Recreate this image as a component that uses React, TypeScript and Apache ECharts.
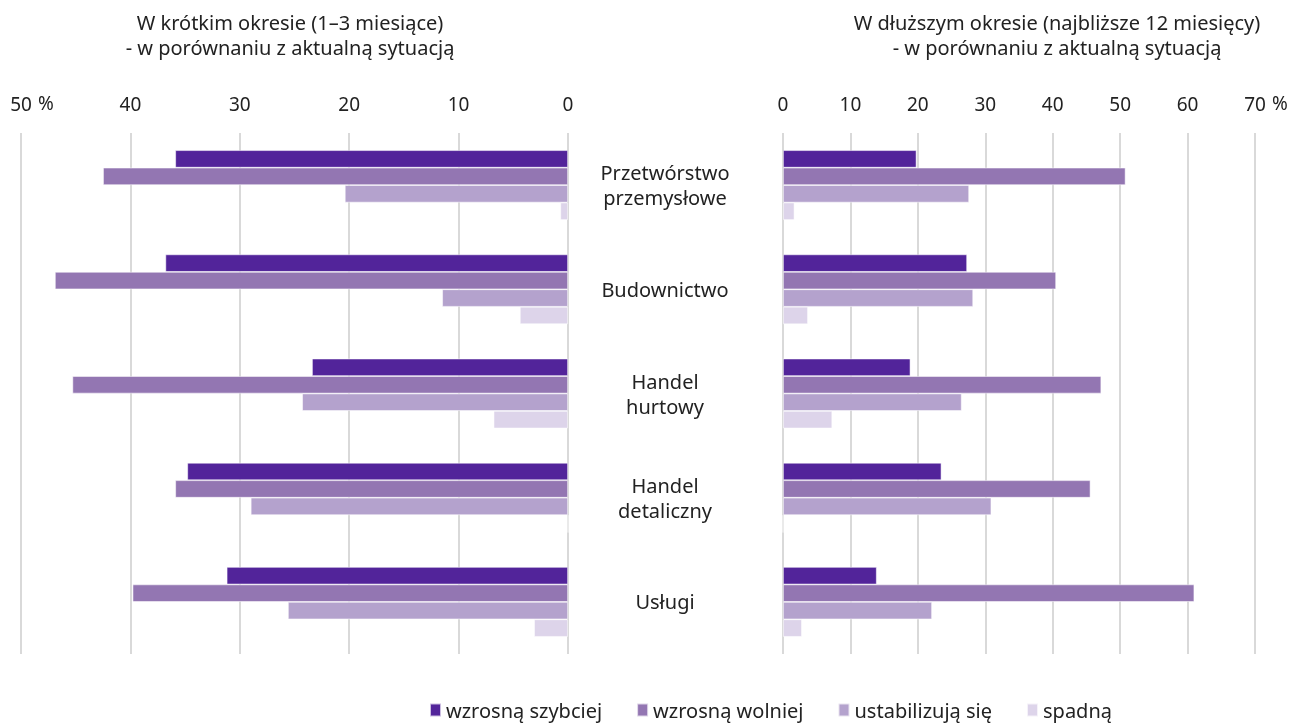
import React, { useEffect, useRef } from "react";
import * as echarts from "echarts";

const categories = ["Przetwórstwo\nprzemysłowe", "Budownictwo", "Handel\nhurtowy", "Handel\ndetaliczny", "Usługi"];
const seriesNames = ["wzrosną szybciej", "wzrosną wolniej", "ustabilizują się", "spadną"];
const colors = ["#52249a", "#9376b2", "#b4a2cd", "#ddd4ea"];

// Short term (1–3 months), %
const shortFaster = [35.9, 36.8, 23.4, 34.8, 31.2];
const shortSlower = [42.5, 46.9, 45.3, 35.9, 39.8];
const shortStable = [20.4, 11.5, 24.3, 29.0, 25.6];
const shortFall = [0.7, 4.4, 6.8, 0, 3.1];

// Longer term (next 12 months), %
const longFaster = [19.8, 27.3, 18.9, 23.5, 13.9];
const longSlower = [50.8, 40.5, 47.2, 45.6, 61.0];
const longStable = [27.6, 28.2, 26.5, 30.9, 22.1];
const longFall = [1.7, 3.7, 7.3, 0, 2.8];

const leftTicksMax = 50;
const rightTicksMax = 70;

const titleLeft = "W krótkim okresie (1–3 miesiące)\n- w porównaniu z aktualną sytuacją";
const titleRight = "W dłuższym okresie (najbliższe 12 miesięcy)\n- w porównaniu z aktualną sytuacją";

const FONT = "'Noto Sans', sans-serif";

export default function App() {
  const ref = useRef<HTMLDivElement>(null);
  useEffect(() => {
    if (!ref.current) return;
    const chart = echarts.init(ref.current, undefined, { renderer: "svg" });
    const shortData = [shortFaster, shortSlower, shortStable, shortFall];
    const longData = [longFaster, longSlower, longStable, longFall];
    const mkSeries = (data: number[][], axisIdx: number) =>
      data.map((d, i) => ({
        type: "bar",
        name: seriesNames[i],
        xAxisIndex: axisIdx,
        yAxisIndex: axisIdx,
        data: d,
        barGap: "0%",
        barCategoryGap: "33%",
        itemStyle: { color: colors[i], borderColor: "rgba(255,255,255,0.7)", borderWidth: 0.75 },
      }));
    const gridTop = 133;
    const gridH = 521;
    const axisLabelStyle = { color: "#222", fontSize: 19, fontFamily: FONT, margin: 20 };
    chart.setOption({
      animation: false,
      textStyle: { fontFamily: FONT },
      grid: [
        { left: 21, width: 547, top: gridTop, height: gridH },
        { left: 783, width: 472, top: gridTop, height: gridH },
      ],
      xAxis: [
        {
          gridIndex: 0,
          type: "value",
          position: "top",
          inverse: true,
          min: 0,
          max: leftTicksMax,
          interval: 10,
          axisLine: { show: false },
          axisTick: { show: false },
          axisLabel: axisLabelStyle,
          splitLine: { show: true, lineStyle: { color: "#d9d9d9", width: 2 } },
        },
        {
          gridIndex: 1,
          type: "value",
          position: "top",
          min: 0,
          max: rightTicksMax,
          interval: 10,
          axisLine: { show: false },
          axisTick: { show: false },
          axisLabel: axisLabelStyle,
          splitLine: { show: true, lineStyle: { color: "#d9d9d9", width: 2 } },
        },
      ],
      yAxis: [
        {
          gridIndex: 0,
          type: "category",
          data: categories,
          inverse: true,
          position: "right",
          axisLine: { show: false },
          axisTick: { show: false },
          axisLabel: {
            color: "#222",
            fontSize: 20,
            fontFamily: FONT,
            align: "center",
            margin: 97,
            lineHeight: 25,
          },
        },
        {
          gridIndex: 1,
          type: "category",
          data: categories,
          inverse: true,
          axisLine: { show: false },
          axisTick: { show: false },
          axisLabel: { show: false },
        },
      ],
      legend: {
        data: seriesNames,
        bottom: 1,
        left: 424,
        icon: "rect",
        itemWidth: 11,
        itemHeight: 13,
        itemGap: 34,
        textStyle: { color: "#222", fontSize: 20, fontFamily: FONT },
      },
      graphic: [
        {
          type: "text",
          x: 290,
          y: 35,
          style: {
            text: titleLeft,
            textAlign: "center",
            textVerticalAlign: "middle",
            fill: "#222",
            font: `20px ${FONT}`,
            lineHeight: 25,
          },
        },
        {
          type: "text",
          x: 1057,
          y: 35,
          style: {
            text: titleRight,
            textAlign: "center",
            textVerticalAlign: "middle",
            fill: "#222",
            font: `20px ${FONT}`,
            lineHeight: 25,
          },
        },
        {
          type: "text",
          x: 38,
          y: 103,
          style: { text: "%", textVerticalAlign: "middle", fill: "#222", font: `19px ${FONT}` },
        },
        {
          type: "text",
          x: 1272,
          y: 103,
          style: { text: "%", textVerticalAlign: "middle", fill: "#222", font: `19px ${FONT}` },
        },
      ],
      series: [...mkSeries(shortData, 0), ...mkSeries(longData, 1)],
    });
    return () => chart.dispose();
  }, []);
  return <div ref={ref} style={{ position: "fixed", left: 0, top: 0, width: 1292, height: 726 }} />;
}
